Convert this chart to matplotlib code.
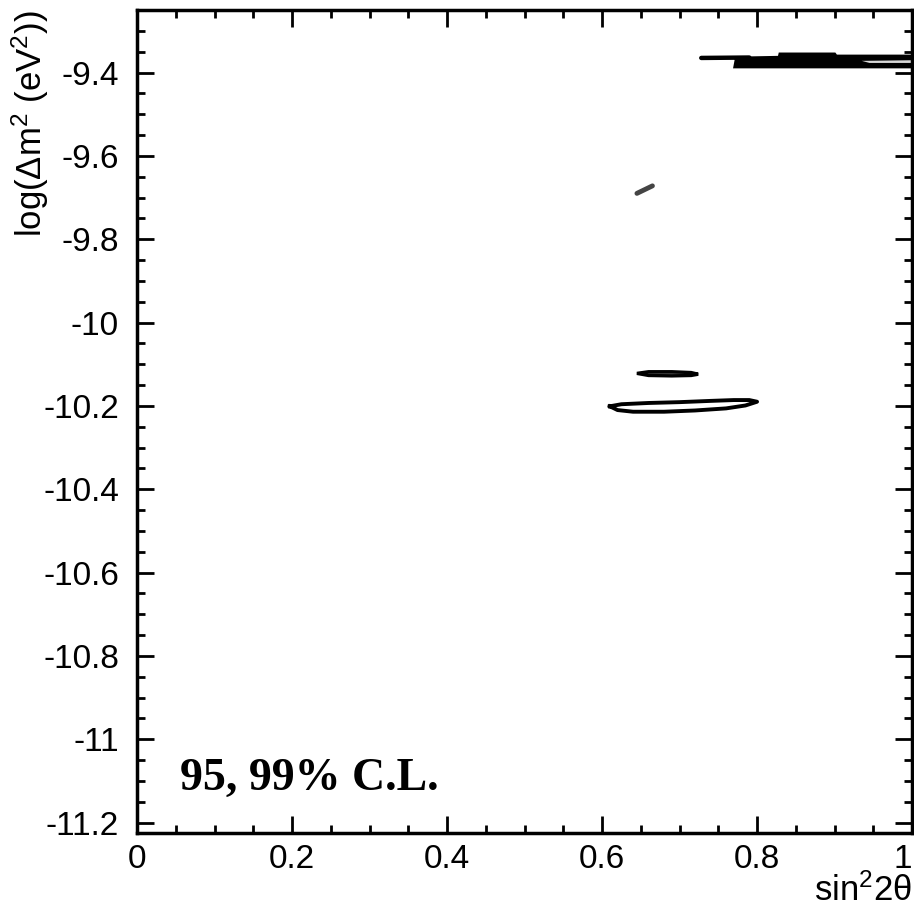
import numpy as np
import matplotlib
matplotlib.use("Agg")
import matplotlib.pyplot as plt
from matplotlib.ticker import MultipleLocator

plt.rcParams['font.family'] = ['Liberation Sans', 'DejaVu Sans']
plt.rcParams['mathtext.fontset'] = 'custom'
plt.rcParams['mathtext.rm'] = 'Liberation Sans'
plt.rcParams['mathtext.it'] = 'Liberation Sans'

# contour outlines (sin^2 2theta, log dm^2)
low_x = [0.610, 0.625, 0.660, 0.700, 0.740, 0.770, 0.790, 0.800, 0.785, 0.760, 0.720, 0.680, 0.640, 0.620, 0.610]
low_y = [-10.201, -10.196, -10.193, -10.191, -10.188, -10.186, -10.186, -10.190, -10.199, -10.206, -10.211, -10.214, -10.214, -10.210, -10.201]

up_x = [0.645, 0.660, 0.690, 0.715, 0.724, 0.715, 0.690, 0.660, 0.645]
up_y = [-10.122, -10.118, -10.118, -10.120, -10.124, -10.127, -10.128, -10.127, -10.122]

tip_x = [0.728, 0.790]
tip_y = [-9.365, -9.364]

band_x = [0.769, 0.827, 0.828, 0.901, 0.903, 1.02, 1.02, 0.933, 0.769, 0.771]
band_y = [-9.362, -9.360, -9.352, -9.352, -9.357, -9.357, -9.390, -9.390, -9.390, -9.370]

gap_x = [0.935, 1.02, 1.02, 0.945]
gap_y = [-9.372, -9.370, -9.377, -9.377]

speck_x = [0.645, 0.665]
speck_y = [-9.690, -9.672]

xtk = [0, 0.2, 0.4, 0.6, 0.8, 1]
xtkstr = ['0', '0.2', '0.4', '0.6', '0.8', '1']
ytk = [-11.2, -11, -10.8, -10.6, -10.4, -10.2, -10, -9.8, -9.6, -9.4]
ytkstr = ['-11.2', '-11', '-10.8', '-10.6', '-10.4', '-10.2', '-10', '-9.8', '-9.6', '-9.4']

fig = plt.figure(figsize=(9.14, 9.11), dpi=100)
ax = fig.add_axes([0.1499, 0.0856, 0.848, 0.9034])

ax.plot(tip_x, tip_y, color='k', lw=3.2, solid_capstyle='round')
ax.fill(band_x, band_y, color='k', lw=0)
ax.fill(gap_x, gap_y, color='#d8d8d8', lw=0)
ax.fill(up_x, up_y, facecolor='#555555', edgecolor='k', lw=2.4)
ax.plot(low_x, low_y, color='k', lw=2.8)
ax.plot(speck_x, speck_y, color='#444444', lw=3.5, solid_capstyle='round')

ax.set_xlim(0, 1)
ax.set_ylim(-11.225, -9.25)

ax.set_xticks(xtk)
ax.set_xticklabels(xtkstr)
ax.set_yticks(ytk)
ax.set_yticklabels(ytkstr)
ax.xaxis.set_minor_locator(MultipleLocator(0.05))
ax.yaxis.set_minor_locator(MultipleLocator(0.05))
ax.tick_params(which='both', direction='in', top=True, right=True, width=2, color='k')
ax.tick_params(which='major', length=12, labelsize=24)
ax.tick_params(which='minor', length=6)
ax.tick_params(axis='y', pad=13)
ax.tick_params(axis='x', pad=8)
ax.get_xticklabels()[-1].set_horizontalalignment('right')
for s in ax.spines.values():
    s.set_linewidth(2.5)

ax.text(0.055, 0.052, '95, 99% C.L.', transform=ax.transAxes,
        family=['Liberation Serif'], fontsize=33, fontweight='bold',
        va='baseline', ha='left')

fig.text(0.033, 0.989, r'log($\Delta$m$^2$ (eV$^2$))', rotation=90,
         va='top', ha='center', fontsize=25)
fig.text(0.998, 0.004, r'sin$^2$2$\theta$', va='bottom', ha='right', fontsize=25)

fig.savefig('out.png', dpi=100)
